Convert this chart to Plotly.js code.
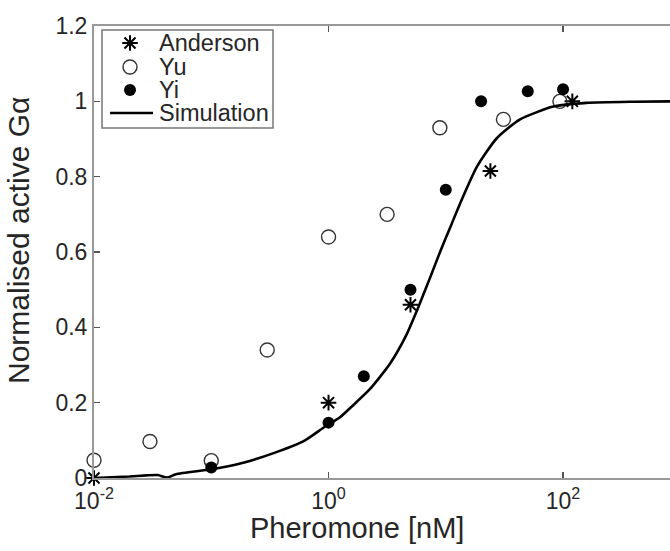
<!DOCTYPE html>
<html>
<head>
<meta charset="utf-8">
<script src="https://cdn.plot.ly/plotly-3.0.1.min.js"></script>
<style>
html,body{margin:0;padding:0;background:#fff;overflow:hidden;}
#chart{width:670px;height:551px;}
</style>
</head>
<body>
<div id="chart"></div>
<script>
// Data (pheromone in nM)
const andersonX = [0.01, 1, 5, 24, 120];
const andersonY = [0.0, 0.2, 0.46, 0.815, 1.0];

const yuX = [0.01, 0.03, 0.1, 0.3, 1, 3.16, 8.9, 31, 94];
const yuY = [0.047, 0.097, 0.046, 0.34, 0.64, 0.70, 0.93, 0.952, 1.0];

const yiX = [0.1, 1, 2, 5, 10, 20, 50, 100];
const yiY = [0.028, 0.147, 0.27, 0.50, 0.765, 1.0, 1.027, 1.032];

const simX = [0.01, 0.02, 0.028, 0.035, 0.042, 0.05, 0.1, 0.18, 0.34, 0.63, 0.93, 1.26, 1.58, 2.24, 3.35, 4.65, 5.65, 7.35, 8.93, 11.2, 13.5, 18.4, 27.2, 43, 82.6, 158, 400, 1000];
const simY = [0.0, 0.004, 0.007, 0.008, 0.001, 0.01, 0.023, 0.039, 0.066, 0.10, 0.136, 0.162, 0.19, 0.235, 0.304, 0.382, 0.443, 0.532, 0.60, 0.674, 0.735, 0.826, 0.902, 0.952, 0.986, 0.996, 0.999, 1.0];

const seriesNames = ['Anderson', 'Yu', 'Yi', 'Simulation'];

const xTickVals = [0.01, 1, 100];
const xTickText = ['10<sup>-2</sup>', '10<sup>0</sup>', '10<sup>2</sup>'];
const yTickVals = [0, 0.2, 0.4, 0.6, 0.8, 1, 1.2];

const FONT = 'Liberation Sans, Arial, Helvetica, sans-serif';
const TXT = '#262626';

const asteriskStyle = {symbol: 'asterisk-open', size: 13, color: '#000', line: {color: '#000', width: 2}};
const openStyle = {symbol: 'circle-open', size: 14, color: '#333', line: {color: '#333', width: 1.4}};
const filledStyle = {symbol: 'circle', size: 12, color: '#000'};
const simLine = {color: '#000', width: 2.6};

// legend layout (pixel offsets inside the plot area, measured from its top-left corner)
const LEG_BOX = {x0: 8, x1: 179, y0: 4, y1: 102};
const LEG_ROWS = [17, 41, 64, 87];
const LEG_SYM_X = 36;
const LEG_TEXT_X = 63;
const LEG_LINE_X = [16, 59];

const traces = [
  {x: andersonX, y: andersonY, name: seriesNames[0], type: 'scatter', mode: 'markers', cliponaxis: false, marker: asteriskStyle},
  {x: yuX, y: yuY, name: seriesNames[1], type: 'scatter', mode: 'markers', cliponaxis: false, marker: openStyle},
  {x: yiX, y: yiY, name: seriesNames[2], type: 'scatter', mode: 'markers', cliponaxis: false, marker: filledStyle},
  {x: simX, y: simY, name: seriesNames[3], type: 'scatter', mode: 'lines', cliponaxis: false,
   line: Object.assign({shape: 'spline', smoothing: 0.6}, simLine)},
  // legend glyphs
  {x: [LEG_SYM_X], y: [LEG_ROWS[0]], xaxis: 'x2', yaxis: 'y2', mode: 'markers', cliponaxis: false, marker: asteriskStyle, hoverinfo: 'skip'},
  {x: [LEG_SYM_X], y: [LEG_ROWS[1]], xaxis: 'x2', yaxis: 'y2', mode: 'markers', cliponaxis: false, marker: openStyle, hoverinfo: 'skip'},
  {x: [LEG_SYM_X], y: [LEG_ROWS[2]], xaxis: 'x2', yaxis: 'y2', mode: 'markers', cliponaxis: false, marker: filledStyle, hoverinfo: 'skip'},
  {x: LEG_LINE_X, y: [LEG_ROWS[3], LEG_ROWS[3]], xaxis: 'x2', yaxis: 'y2', mode: 'lines', cliponaxis: false, line: simLine, hoverinfo: 'skip'}
];

const annotations = seriesNames.map((n, i) => ({
  text: n, xref: 'x2', yref: 'y2', x: LEG_TEXT_X, y: LEG_ROWS[i], xanchor: 'left', yanchor: 'middle',
  showarrow: false, font: {family: FONT, size: 23.5, color: TXT}
}));
annotations.push({text: 'Pheromone [nM]', xref: 'paper', yref: 'paper', x: 0.4566, y: -0.1106,
  xanchor: 'center', yanchor: 'middle', showarrow: false, font: {family: FONT, size: 29, color: TXT}});
annotations.push({text: 'Normalised active Gα', xref: 'paper', yref: 'paper', x: -0.132, y: 0.5265,
  xanchor: 'center', yanchor: 'middle', textangle: -90, showarrow: false, font: {family: FONT, size: 30, color: TXT}});

const layout = {
  width: 670, height: 551,
  margin: {l: 94, r: 0, t: 26, b: 73, pad: 0},
  paper_bgcolor: '#fff', plot_bgcolor: '#fff',
  font: {family: FONT, color: TXT, size: 23},
  showlegend: false,
  xaxis: {type: 'log', range: [-2, 2.912], tickmode: 'array', tickvals: xTickVals, ticktext: xTickText,
          ticks: 'inside', ticklen: 6, tickwidth: 1.2, tickcolor: '#555', ticklabelstandoff: 1,
          showline: true, linecolor: '#999', linewidth: 2, mirror: 'ticks',
          showgrid: false, zeroline: false,
          tickfont: {family: FONT, size: 23, color: TXT}},
  yaxis: {range: [0, 1.2], tickmode: 'array', tickvals: yTickVals,
          ticks: 'inside', ticklen: 6, tickwidth: 1.2, tickcolor: '#555',
          showline: true, linecolor: '#999', linewidth: 2, mirror: false,
          showgrid: false, zeroline: false,
          tickfont: {family: FONT, size: 23, color: TXT}},
  xaxis2: {overlaying: 'x', range: [0, 576], visible: false, fixedrange: true},
  yaxis2: {overlaying: 'y', range: [452, 0], visible: false, fixedrange: true},
  shapes: [{type: 'rect', xref: 'x2', yref: 'y2', x0: LEG_BOX.x0, x1: LEG_BOX.x1, y0: LEG_BOX.y0, y1: LEG_BOX.y1,
            line: {color: '#777', width: 1.5}, fillcolor: '#fff', layer: 'below'}],
  annotations: annotations
};

Plotly.newPlot('chart', traces, layout, {displayModeBar: false, staticPlot: true});
</script>
</body>
</html>
